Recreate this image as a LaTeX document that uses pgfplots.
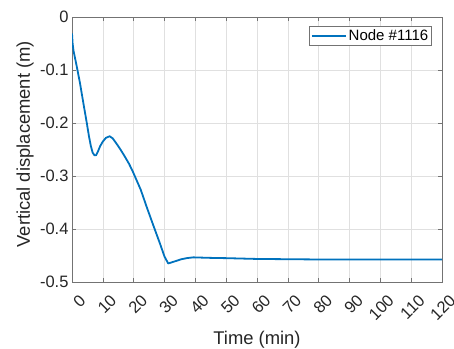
\documentclass[border=0pt]{standalone}
\usepackage{pgfplots}
\pgfplotsset{compat=1.18}
\usepackage{fontspec}
\setmainfont{Liberation Sans}
\definecolor{mblue}{RGB}{0,114,189}
\definecolor{axgray}{RGB}{38,38,38}
\begin{document}
\begin{tikzpicture}
\begin{axis}[
  name=ax,
  scale only axis, width=370bp, height=265bp,
  xmin=0, xmax=120, ymin=-0.5, ymax=0,
  xtick={0,10,20,30,40,50,60,70,80,90,100,110,120},
  xticklabels={0,10,20,30,40,50,60,70,80,90,100,110,120},
  ytick={-0.5,-0.4,-0.3,-0.2,-0.1,0},
  yticklabels={-0.5,-0.4,-0.3,-0.2,-0.1,0},
  tick align=inside, major tick length=4bp,
  axis line style={draw=black!55, line width=0.6bp},
  tick style={draw=black!55, line width=0.6bp},
  grid=major, grid style={draw=black!12, line width=0.5bp},
  ticklabel style={font=\fontsize{16.5bp}{18bp}\selectfont, text=axgray},
  x tick label style={rotate=45, anchor=north east, xshift=0bp, yshift=-9.2bp},
  xlabel={Time (min)},
  ylabel={Vertical displacement (m)},
  label style={font=\fontsize{18.4bp}{20bp}\selectfont, text=axgray},
  xlabel style={at={(axis description cs:0.5,-0.218)}, anchor=center},
  ylabel style={at={(axis description cs:-0.127,0.52)}, anchor=center},
  legend style={at={(axis description cs:0.973,0.966)}, anchor=north east,
    draw=black!55, line width=0.6bp, font=\fontsize{15bp}{16bp}\selectfont,
    text=black, inner sep=1.5bp, row sep=0bp},
  legend cell align=left,
  legend image code/.code={\draw[#1] (0bp,0bp) -- (34bp,0bp);},
]
\addplot[mblue, line width=1.8bp, line join=round] coordinates {
(0,-0.031) (0.2,-0.050) (0.5,-0.064) (1.5,-0.092) (2.6,-0.125) (3.7,-0.163)
(4.8,-0.200) (5.5,-0.225) (6.1,-0.243) (6.7,-0.256) (7.3,-0.261) (7.8,-0.261)
(8.4,-0.254) (9.1,-0.244) (10.0,-0.235) (11.0,-0.228) (12.2,-0.225) (13.2,-0.229)
(14.2,-0.237) (15.5,-0.248) (17.0,-0.262) (18.5,-0.277) (19.6,-0.290) (20.5,-0.302)
(22.3,-0.326) (24.2,-0.358) (26.3,-0.392) (28.5,-0.427) (30.0,-0.452) (31.2,-0.465)
(32.3,-0.463) (33.9,-0.460) (35.5,-0.457) (37.2,-0.455) (39.3,-0.4535) (45,-0.4545)
(50,-0.455) (60,-0.4565) (70,-0.457) (80,-0.4575) (100,-0.4575) (120,-0.4575)
};
\addlegendentry{Node \#1116}
\end{axis}
\pgfresetboundingbox
\path[use as bounding box] ([shift={(-72bp,-67bp)}]ax.south west) rectangle ([shift={(12bp,17bp)}]ax.north east);
\end{tikzpicture}
\end{document}
